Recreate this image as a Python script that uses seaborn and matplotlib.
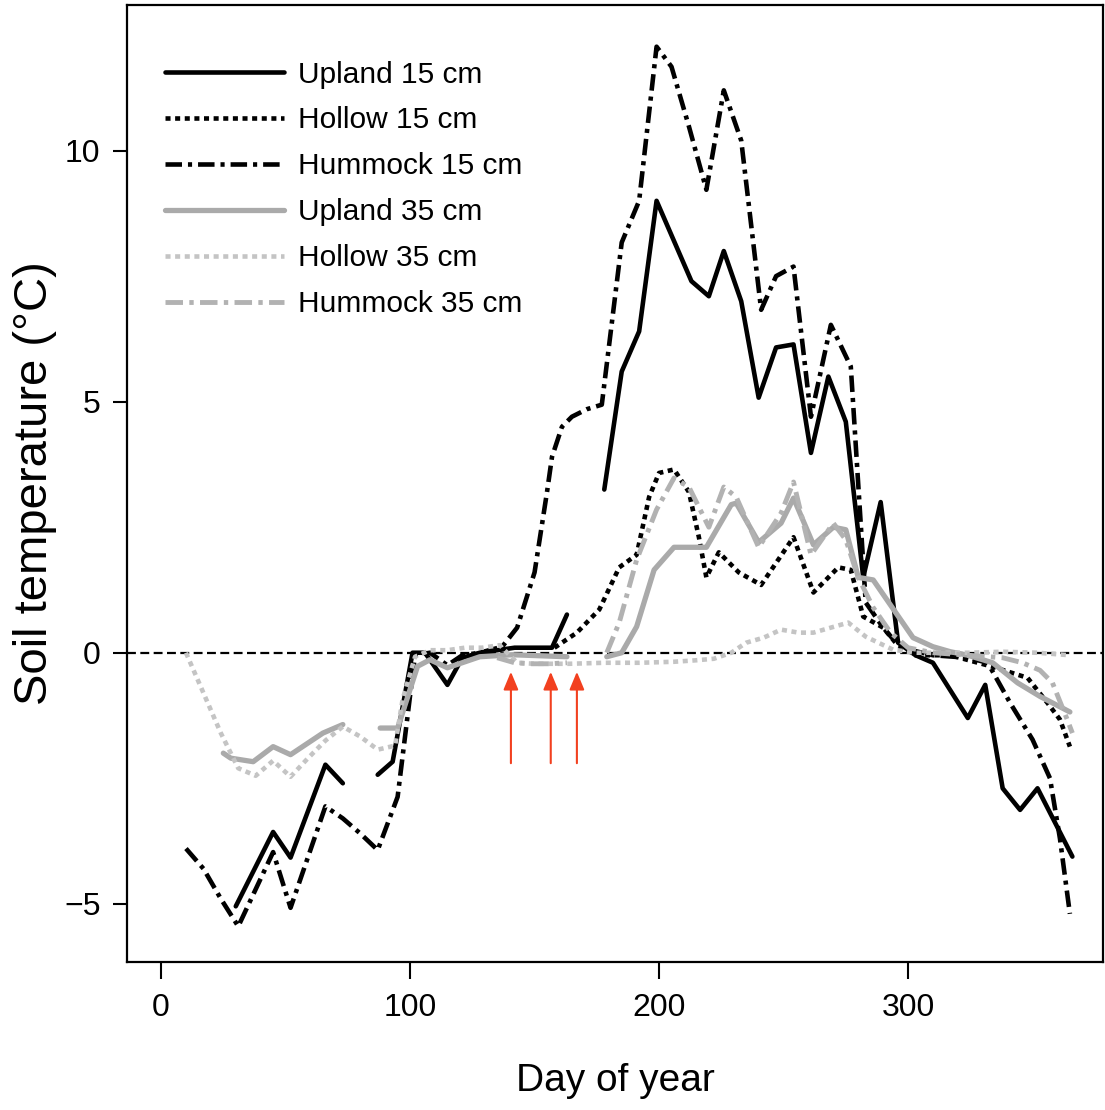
import numpy as np
import pandas as pd
import matplotlib
matplotlib.use("Agg")
import matplotlib.pyplot as plt
from matplotlib.lines import Line2D
import seaborn as sns

nan = np.nan

# Weekly soil temperatures (°C); NaN marks a gap in the record
upland15_day = [30, 45, 52, 66, 73, nan,
                87, 93, 101, 106, 115, 121, 128, 142, 157, 163, nan,
                178, 185, 192, 199, 206, 213, 220, 226, 233, 240, 247, 254, 261,
                268, 275, 282, 289, 296, 303, 310, 324, 331, 338, 345, 352, 366]
upland15_temp = [-5.05, -3.57, -4.08, -2.23, -2.6, nan,
                 -2.43, -2.17, 0.0, 0.0, -0.64, -0.1, 0.0, 0.1, 0.1, 0.76, nan,
                 3.25, 5.6, 6.4, 9.0, 8.2, 7.4, 7.1, 8.0, 7.0, 5.08, 6.08, 6.14, 3.98,
                 5.5, 4.6, 1.5, 3.0, 0.2, -0.05, -0.2, -1.3, -0.64, -2.7, -3.13, -2.7, -4.06]

hollow15_day = [158, 167, 176, 184, 191, 196, 200, 206, 212, 216, 219, 224, 232, 241,
                254, 262, 272, 277, 282, 290, 295, 303, 317, 334, 348, 356, 361, 365]
hollow15_temp = [0.1, 0.4, 0.86, 1.7, 1.95, 3.1, 3.58, 3.65, 3.2, 2.3, 1.5, 2.0, 1.6, 1.35,
                 2.3, 1.2, 1.7, 1.65, 0.72, 0.5, 0.2, -0.05, -0.05, -0.28, -0.5, -1.0, -1.33, -1.87]

hummock15_day = [10, 17, 24, 31, 45, 52, 66, 73, 80, 87, 95, 102, 108, 115, 121, 128,
                 137, 143, 150, 155, 157, 161, 165, 171, 177, 185, 192, 199, 205, 212,
                 219, 226, 233, 241, 247, 254, 261, 269, 277, 283, 290, 297, 310, 324,
                 332, 341, 350, 357, 361, 365]
hummock15_temp = [-3.9, -4.3, -4.9, -5.45, -3.97, -5.08, -3.06, -3.3, -3.6, -3.93, -2.87,
                  -0.05, 0.0, -0.25, -0.05, 0.0, 0.12, 0.5, 1.6, 3.2, 3.9, 4.5, 4.7, 4.85,
                  4.94, 8.17, 9.0, 12.07, 11.67, 10.48, 9.22, 11.2, 10.2, 6.83, 7.5, 7.69,
                  4.7, 6.53, 5.7, 1.0, 0.5, 0.1, -0.05, -0.1, -0.2, -1.0, -1.73, -2.5,
                  -3.7, -5.2]

upland35_day = [25, 28, 37, 45, 52, 65, 73, nan,
                88, 95, 103, 108, 115, 128, 141, 163, nan,
                179, 185, 191, 198, 206, 219, 229, 231, 240, 249, 254, 262, 270, 275,
                280, 286, 302, 310, 317, 324, 334, 344, 353, 365]
upland35_temp = [-2.0, -2.1, -2.17, -1.87, -2.03, -1.6, -1.43, nan,
                 -1.5, -1.5, -0.27, -0.14, -0.3, -0.08, -0.04, -0.08, nan,
                 -0.08, 0.0, 0.52, 1.65, 2.1, 2.1, 2.95, 2.98, 2.2, 2.58, 3.08, 2.15, 2.5,
                 2.45, 1.5, 1.45, 0.3, 0.12, 0.02, -0.05, -0.2, -0.6, -0.87, -1.18]

hollow35_day = [10, 17, 24, 31, 38, 45, 52, 59, 66, 73, 80, 87, 94, 97, 102, 108, 115,
                122, 129, 136, 143, 150, 164, 178, 192, 206, 215, 222, 229, 235, 242,
                249, 256, 262, 269, 276, 283, 294, 303, 324, 338, 352, 365]
hollow35_temp = [0.0, -0.8, -1.6, -2.3, -2.45, -2.15, -2.47, -2.1, -1.75, -1.47, -1.67,
                 -1.93, -1.85, -0.93, -0.08, 0.05, 0.05, 0.1, 0.1, 0.15, -0.2, -0.22,
                 -0.22, -0.2, -0.2, -0.18, -0.15, -0.12, 0.0, 0.2, 0.3, 0.46, 0.4, 0.4,
                 0.5, 0.6, 0.32, 0.06, 0.0, 0.0, 0.02, 0.0, -0.05]

hummock35_day = [135, 142, 149, 156, 163, nan,
                 179, 184, 191, 199, 206, 212, 220, 226, 231, 240, 249, 254, 261, 270,
                 275, 280, 286, 293, 300, 310, 324, 338, 346, 353, 358, 364, 366]
hummock35_temp = [-0.1, -0.2, -0.22, -0.22, -0.2, nan,
                  0.0, 0.6, 1.85, 2.85, 3.48, 3.3, 2.5, 3.3, 3.1, 2.1, 2.78, 3.4, 1.95,
                  2.58, 2.25, 1.5, 0.9, 0.4, 0.1, 0.0, -0.05, -0.1, -0.2, -0.35, -0.6,
                  -1.34, -1.6]

series_labels = ["Upland 15 cm", "Hollow 15 cm", "Hummock 15 cm",
                 "Upland 35 cm", "Hollow 35 cm", "Hummock 35 cm"]

# Days marked with red arrows
arrow_days = [140.5, 156.5, 167]

series = [
    (upland15_day, upland15_temp, "black", 3.3, "-"),
    (hollow15_day, hollow15_temp, "black", 3.3, (0, (1.1, 1.0))),
    (hummock15_day, hummock15_temp, "black", 3.3, (0, (3.6, 1.3, 0.9, 1.3))),
    (upland35_day, upland35_temp, "#aaaaaa", 3.8, "-"),
    (hollow35_day, hollow35_temp, "#c4c4c4", 3.3, (0, (1.1, 1.0))),
    (hummock35_day, hummock35_temp, "#b2b2b2", 3.5, (0, (3.6, 1.3, 0.9, 1.3))),
]

sns.set_theme(style="ticks")
plt.rcParams["font.family"] = ["Liberation Sans", "DejaVu Sans"]
plt.rcParams["axes.unicode_minus"] = True
plt.rcParams["text.color"] = "black"
plt.rcParams["axes.labelcolor"] = "black"
plt.rcParams["xtick.color"] = "black"
plt.rcParams["ytick.color"] = "black"

fig = plt.figure(figsize=(11.05, 11.1), dpi=100)
ax = fig.add_axes([0.1149, 0.1333, 0.8833, 0.8622])

ax.axhline(0, color="black", linewidth=1.6, linestyle=(0, (4, 2)), zorder=1)

handles = []
for (days, temps, color, lw, ls), label in zip(series, series_labels):
    df = pd.DataFrame({"day": days, "temp": temps})
    df["seg"] = df["day"].isna().cumsum()
    df = df.dropna()
    for _, seg in df.groupby("seg"):
        sns.lineplot(data=seg, x="day", y="temp", ax=ax, color=color,
                     linewidth=lw, linestyle=ls, legend=False, zorder=2, sort=False)
    handles.append(Line2D([], [], color=color, linewidth=lw, linestyle=ls, label=label))

for d in arrow_days:
    ax.annotate("", xy=(d, -0.38), xytext=(d, -2.2),
                arrowprops=dict(arrowstyle="-|>,head_length=0.6,head_width=0.25",
                                color="#f2401f", lw=1.5, mutation_scale=18,
                                shrinkA=0, shrinkB=0), zorder=3)

ax.set_xlim(-13.7, 378.3)
ax.set_ylim(-6.16, 12.9)
ax.set_xticks([0, 100, 200, 300])
ax.set_yticks([-5, 0, 5, 10])
for s in ax.spines.values():
    s.set_visible(True)
    s.set_linewidth(1.6)
    s.set_color("black")
ax.tick_params(axis="x", length=12, width=1.5, pad=10, labelsize=23, colors="black")
ax.tick_params(axis="y", length=10, width=1.5, pad=9, labelsize=23, colors="black")

ax.set_xlabel("Day of year", fontsize=28, color="black")
ax.set_ylabel("Soil temperature (°C)", fontsize=34, color="black")
ax.xaxis.set_label_coords(0.5, -0.106)
ax.yaxis.set_label_coords(-0.072, 0.5)

leg = ax.legend(handles=handles, loc="upper left", bbox_to_anchor=(0.039, 0.942),
                frameon=False, fontsize=21.5, handlelength=4.0, handletextpad=0.45,
                labelspacing=0.6, borderpad=0, borderaxespad=0)
for t in leg.get_texts():
    t.set_color("black")

fig.savefig("out.png", dpi=100)
